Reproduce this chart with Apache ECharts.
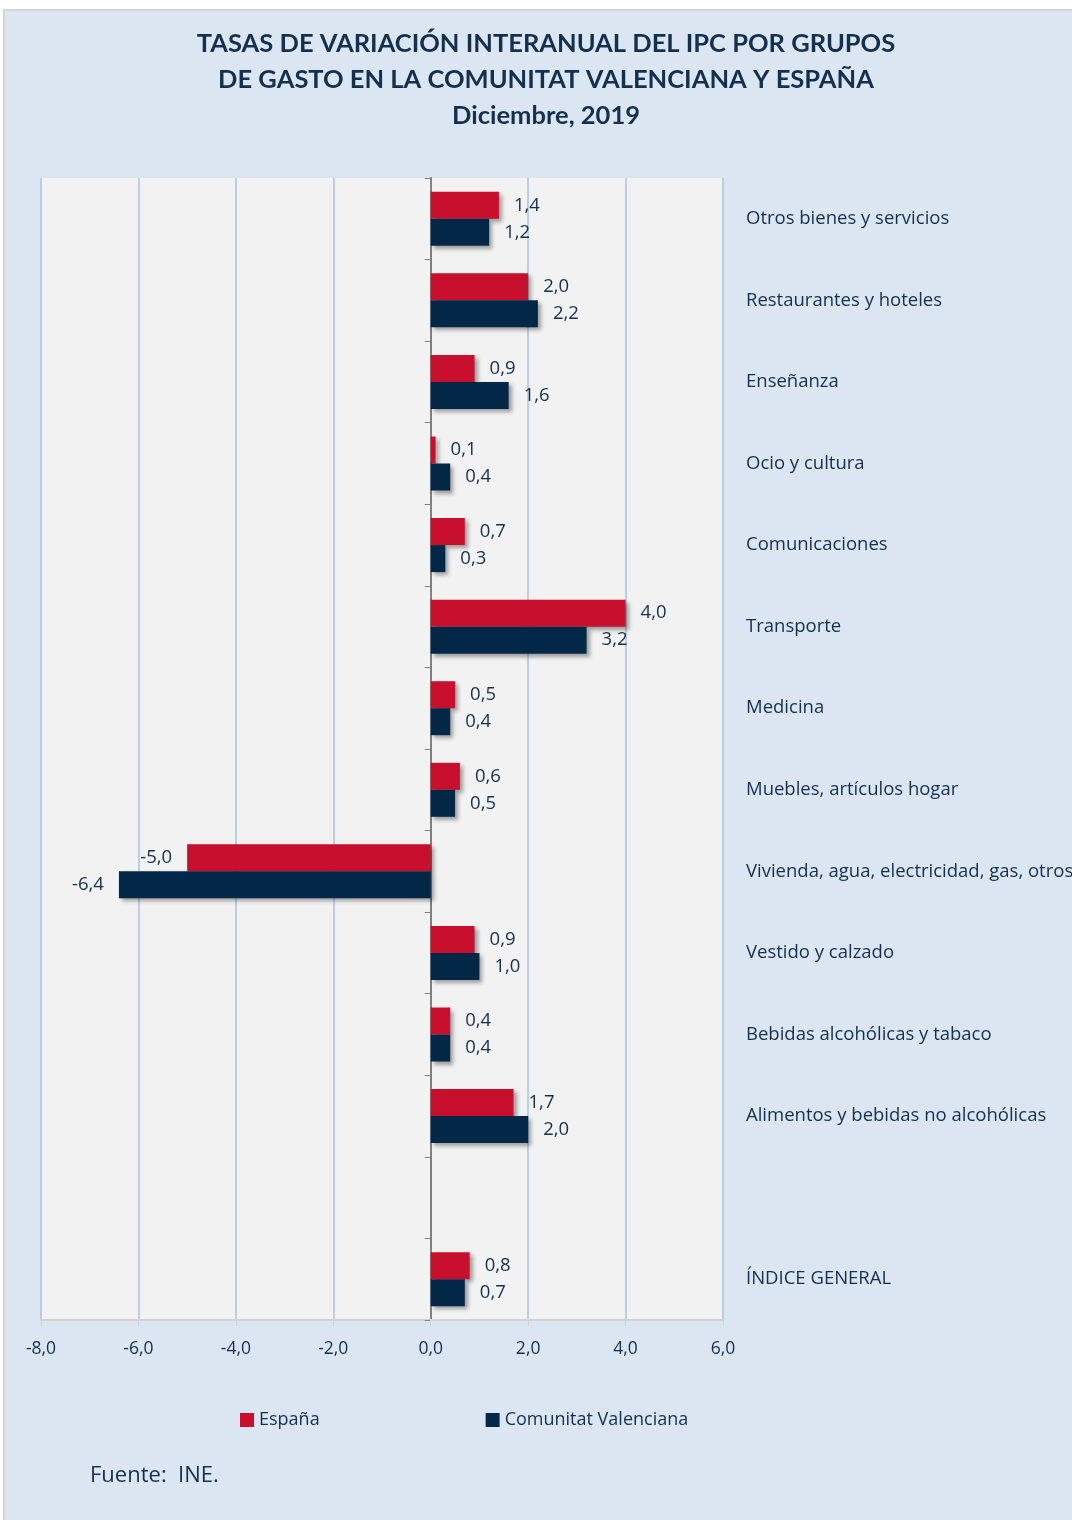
<head> </head>

<body style="margin: 0">
  <div id="main" style="width: 1072px; height: 1520px"></div>
  <script src="https://cdn.jsdelivr.net/npm/echarts@6/dist/echarts.min.js"></script>
  <script>
    // grupos de gasto (de arriba a abajo)
    var grupos = [
      "Otros bienes y servicios",
      "Restaurantes y hoteles",
      "Enseñanza",
      "Ocio y cultura",
      "Comunicaciones",
      "Transporte",
      "Medicina",
      "Muebles, artículos hogar",
      "Vivienda, agua, electricidad, gas, otros",
      "Vestido y calzado",
      "Bebidas alcohólicas y tabaco",
      "Alimentos y bebidas no alcohólicas",
      "",
      "ÍNDICE GENERAL",
    ];
    var espana = [1.4, 2.0, 0.9, 0.1, 0.7, 4.0, 0.5, 0.6, -5.0, 0.9, 0.4, 1.7, null, 0.8];
    var valenciana = [1.2, 2.2, 1.6, 0.4, 0.3, 3.2, 0.4, 0.5, -6.4, 1.0, 0.4, 2.0, null, 0.7];

    var azulTexto = "#13304f";
    var fuente = "'Open Sans', sans-serif";
    var coma = (v) => v.toFixed(1).replace(".", ",");

    // etiqueta a la izquierda para los valores negativos
    var conEtiqueta = (arr) =>
      arr.map((v) =>
        v == null ? null : v < 0 ? { value: v, label: { position: "left" } } : v
      );

    var sombra = {
      shadowBlur: 4,
      shadowOffsetX: 3,
      shadowOffsetY: 3,
      shadowColor: "rgba(0,0,0,0.35)",
    };

    var myChart = echarts.init(document.getElementById("main"));
    var option = {
      backgroundColor: "#ffffff",
      textStyle: { fontFamily: fuente },
      graphic: [
        {
          type: "rect",
          z: -10,
          shape: { x: 4, y: 10, width: 1080, height: 1520 },
          style: { fill: "#dce6f2", stroke: "#d4d4d4", lineWidth: 2 },
        },
        {
          type: "text",
          left: 90,
          top: 1465,
          style: {
            text: "Fuente:  INE.",
            fill: azulTexto,
            font: "22px 'Open Sans', sans-serif",
          },
        },
      ],
      title: {
        text: "TASAS DE VARIACIÓN INTERANUAL DEL IPC POR GRUPOS\nDE GASTO EN LA COMUNITAT VALENCIANA Y ESPAÑA\nDiciembre, 2019",
        left: 541,
        top: 21,
        textAlign: "center",
        textStyle: {
          color: azulTexto,
          fontSize: 25.5,
          fontWeight: "bold",
          lineHeight: 36,
          fontFamily: "Lato, sans-serif",
        },
      },
      legend: {
        left: 235,
        top: 1406,
        itemWidth: 14,
        itemHeight: 14,
        itemGap: 166,
        itemStyle: { shadowBlur: 0 },
        icon: "rect",
        textStyle: { color: azulTexto, fontSize: 18 },
        data: ["España", "Comunitat Valenciana"],
      },
      grid: {
        left: 41,
        right: 349,
        top: 178,
        bottom: 200,
        outerBoundsMode: "none",
        show: true,
        backgroundColor: "#f2f2f2",
        borderWidth: 0,
      },
      xAxis: {
        type: "value",
        min: -8,
        max: 6,
        interval: 2,
        axisLine: { show: true, lineStyle: { color: "#d4d4d4", width: 2 } },
        axisTick: { show: true, length: 6, lineStyle: { color: "#d4d4d4" } },
        axisLabel: {
          color: azulTexto,
          fontSize: 17.5,
          margin: 20,
          formatter: coma,
        },
        splitLine: { lineStyle: { color: "#a8c2e2", width: 1.5 } },
      },
      yAxis: [
        {
          type: "category",
          data: grupos,
          inverse: true,
          axisLine: { onZero: true, lineStyle: { color: "#808080", width: 2 } },
          axisTick: { show: true, length: 6, lineStyle: { color: "#808080" } },
          axisLabel: { show: false },
        },
        {
          type: "category",
          data: grupos,
          inverse: true,
          position: "right",
          axisLine: { show: false },
          axisTick: { show: false },
          axisLabel: {
            align: "left",
            margin: 23,
            color: azulTexto,
            fontSize: 18.5,
          },
        },
      ],
      series: [
        {
          name: "España",
          type: "bar",
          data: conEtiqueta(espana),
          barWidth: 27,
          barGap: "0%",
          itemStyle: Object.assign({ color: "#c8102e" }, sombra),
          label: {
            show: true,
            position: "right",
            distance: 15,
            color: azulTexto,
            fontSize: 18.5,
            formatter: (p) => coma(p.value),
          },
        },
        {
          name: "Comunitat Valenciana",
          type: "bar",
          data: conEtiqueta(valenciana),
          barWidth: 27,
          barGap: "0%",
          itemStyle: Object.assign({ color: "#022747" }, sombra),
          label: {
            show: true,
            position: "right",
            distance: 15,
            color: azulTexto,
            fontSize: 18.5,
            formatter: (p) => coma(p.value),
          },
        },
      ],
    };
    myChart.setOption(option);
  </script>
</body>
